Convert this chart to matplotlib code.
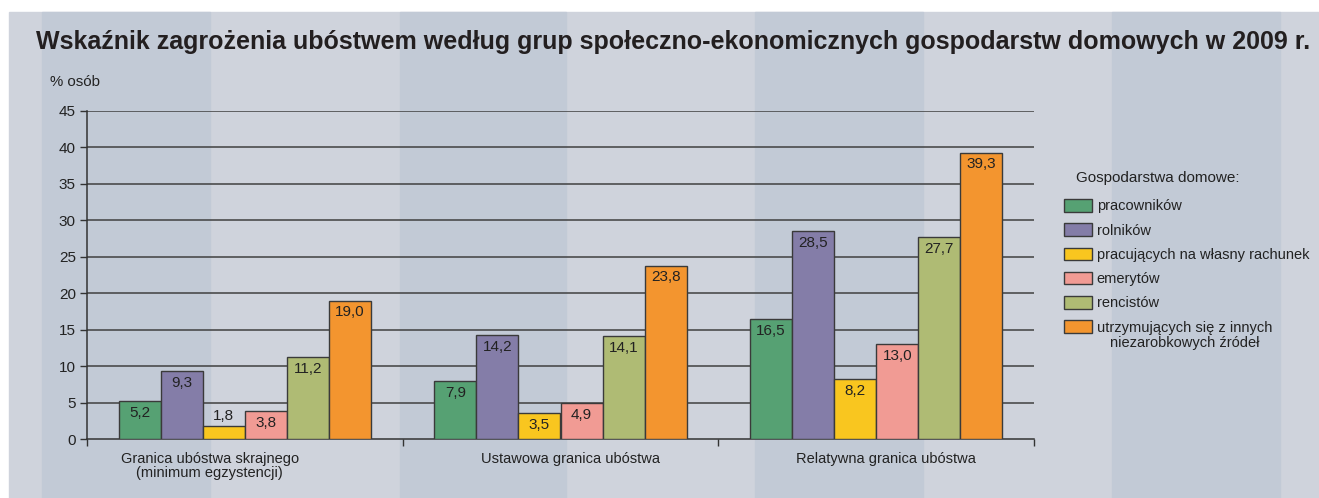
import numpy as np
import matplotlib.pyplot as plt
from matplotlib.patches import Rectangle
from matplotlib.transforms import ScaledTranslation

plt.rcParams['font.family'] = ['Liberation Sans', 'DejaVu Sans']

# Data
groups = ["Granica ubóstwa skrajnego\n(minimum egzystencji)",
          "Ustawowa granica ubóstwa",
          "Relatywna granica ubóstwa"]
series = ["pracowników", "rolników", "pracujących na własny rachunek",
          "emerytów", "rencistów",
          "utrzymujących się z innych\nniezarobkowych źródeł"]
pracownikow = [5.2, 7.9, 16.5]
rolnikow = [9.3, 14.2, 28.5]
na_wlasny_rachunek = [1.8, 3.5, 8.2]
emerytow = [3.8, 4.9, 13.0]
rencistow = [11.2, 14.1, 27.7]
niezarobkowe = [19.0, 23.8, 39.3]
values = [pracownikow, rolnikow, na_wlasny_rachunek, emerytow, rencistow, niezarobkowe]
colors = ["#56a173", "#847da8", "#f9c61f", "#f19b94", "#afbb74", "#f3952f"]

W, H = 1319, 498
fig = plt.figure(figsize=(W / 100, H / 100), dpi=100, facecolor="white")

# striped background
light, dark = "#cfd3dc", "#c2cad6"
fig.patches.append(Rectangle((9 / W, 0), 1 - 9 / W, (H - 12) / H,
                             transform=fig.transFigure, color=light, zorder=-10))
for x0, x1 in [(42, 210), (400, 566), (755, 923), (1112, 1280)]:
    fig.patches.append(Rectangle((x0 / W, 0), (x1 - x0) / W, (H - 12) / H,
                                 transform=fig.transFigure, color=dark, zorder=-9))

ax = fig.add_axes([87 / W, (H - 439) / H, (1034 - 87) / W, (439 - 111) / H])
ax.set_facecolor("none")

n = len(series)
bw = 0.8 / n
x = np.arange(len(groups)) + 0.5
for i, (s, vals, c) in enumerate(zip(series, values, colors)):
    pos = x - 0.4 + bw * (i + 0.5)
    bars = ax.bar(pos, vals, bw, color=c, edgecolor="#3a3a3a",
                  linewidth=1, zorder=3, label=s.split("\n")[0])
    for b, v in zip(bars, vals):
        txt = f"{v:.1f}".replace(".", ",")
        if v < 3:
            ax.annotate(txt, (b.get_x() + bw / 2, v), xytext=(0, 2),
                        textcoords="offset points", ha="center", va="bottom",
                        fontsize=11, color="#222222", zorder=4)
        else:
            ax.annotate(txt, (b.get_x() + bw / 2, v), xytext=(0, -3.5),
                        textcoords="offset points", ha="center", va="top",
                        fontsize=11, color="#222222", zorder=4)

ax.set_xlim(0, 3)
ax.set_ylim(0, 45)
ax.set_yticks(np.arange(0, 50, 5))
for yv in np.arange(5, 50, 5):
    ax.axhline(yv, color="#404040", linewidth=1.1, zorder=1)
ax.tick_params(axis="y", length=5, width=1, color="#333333", labelsize=11,
               pad=3, labelcolor="#222222")
ax.set_xticks([0, 1, 2, 3], minor=True)
ax.set_xticks(x)
ax.set_xticklabels(groups, fontsize=10.5, color="#222222", linespacing=1.0)
ax.tick_params(axis="x", which="major", length=0, pad=9)
ax.tick_params(axis="x", which="minor", length=5, width=1, color="#333333")
for k, lbl in enumerate(ax.get_xticklabels()):
    dx = -0.35 if k == 0 else 0.1
    lbl.set_transform(lbl.get_transform() + ScaledTranslation(dx, 0, fig.dpi_scale_trans))
for side in ["top", "right"]:
    ax.spines[side].set_visible(False)
for side in ["left", "bottom"]:
    ax.spines[side].set_color("#333333")
    ax.spines[side].set_linewidth(1.1)

fig.text(36 / W, 1 - 42 / H, "Wskaźnik zagrożenia ubóstwem według grup społeczno-ekonomicznych gospodarstw domowych w 2009 r.",
         fontsize=18.0, fontweight="bold", color="#231f20", va="center", ha="left")
fig.text(50 / W, 1 - 82 / H, "% osób", fontsize=10.8, color="#222222", va="center")

fig.text(1076 / W, 1 - 178 / H, "Gospodarstwa domowe:", fontsize=11,
         color="#222222", va="center")
leg = fig.legend(loc="upper left", bbox_to_anchor=(1051 / W, 1 - 186 / H),
                 frameon=False, fontsize=10.5, handlelength=1.93,
                 handleheight=0.95, handletextpad=0.3, labelspacing=0.68)
for h in leg.legend_handles:
    h.set_edgecolor("#3a3a3a")
for t in leg.get_texts():
    t.set_color("#222222")

# second line of the last legend entry, centred under the first one
fig.canvas.draw()
bb = leg.get_texts()[-1].get_window_extent().transformed(fig.transFigure.inverted())
fig.text((bb.x0 + bb.x1) / 2, bb.y0 - 1 / H, series[-1].split("\n")[1],
         fontsize=10.5, color="#222222", ha="center", va="top")

fig.savefig("out.png", dpi=100, facecolor="white")
